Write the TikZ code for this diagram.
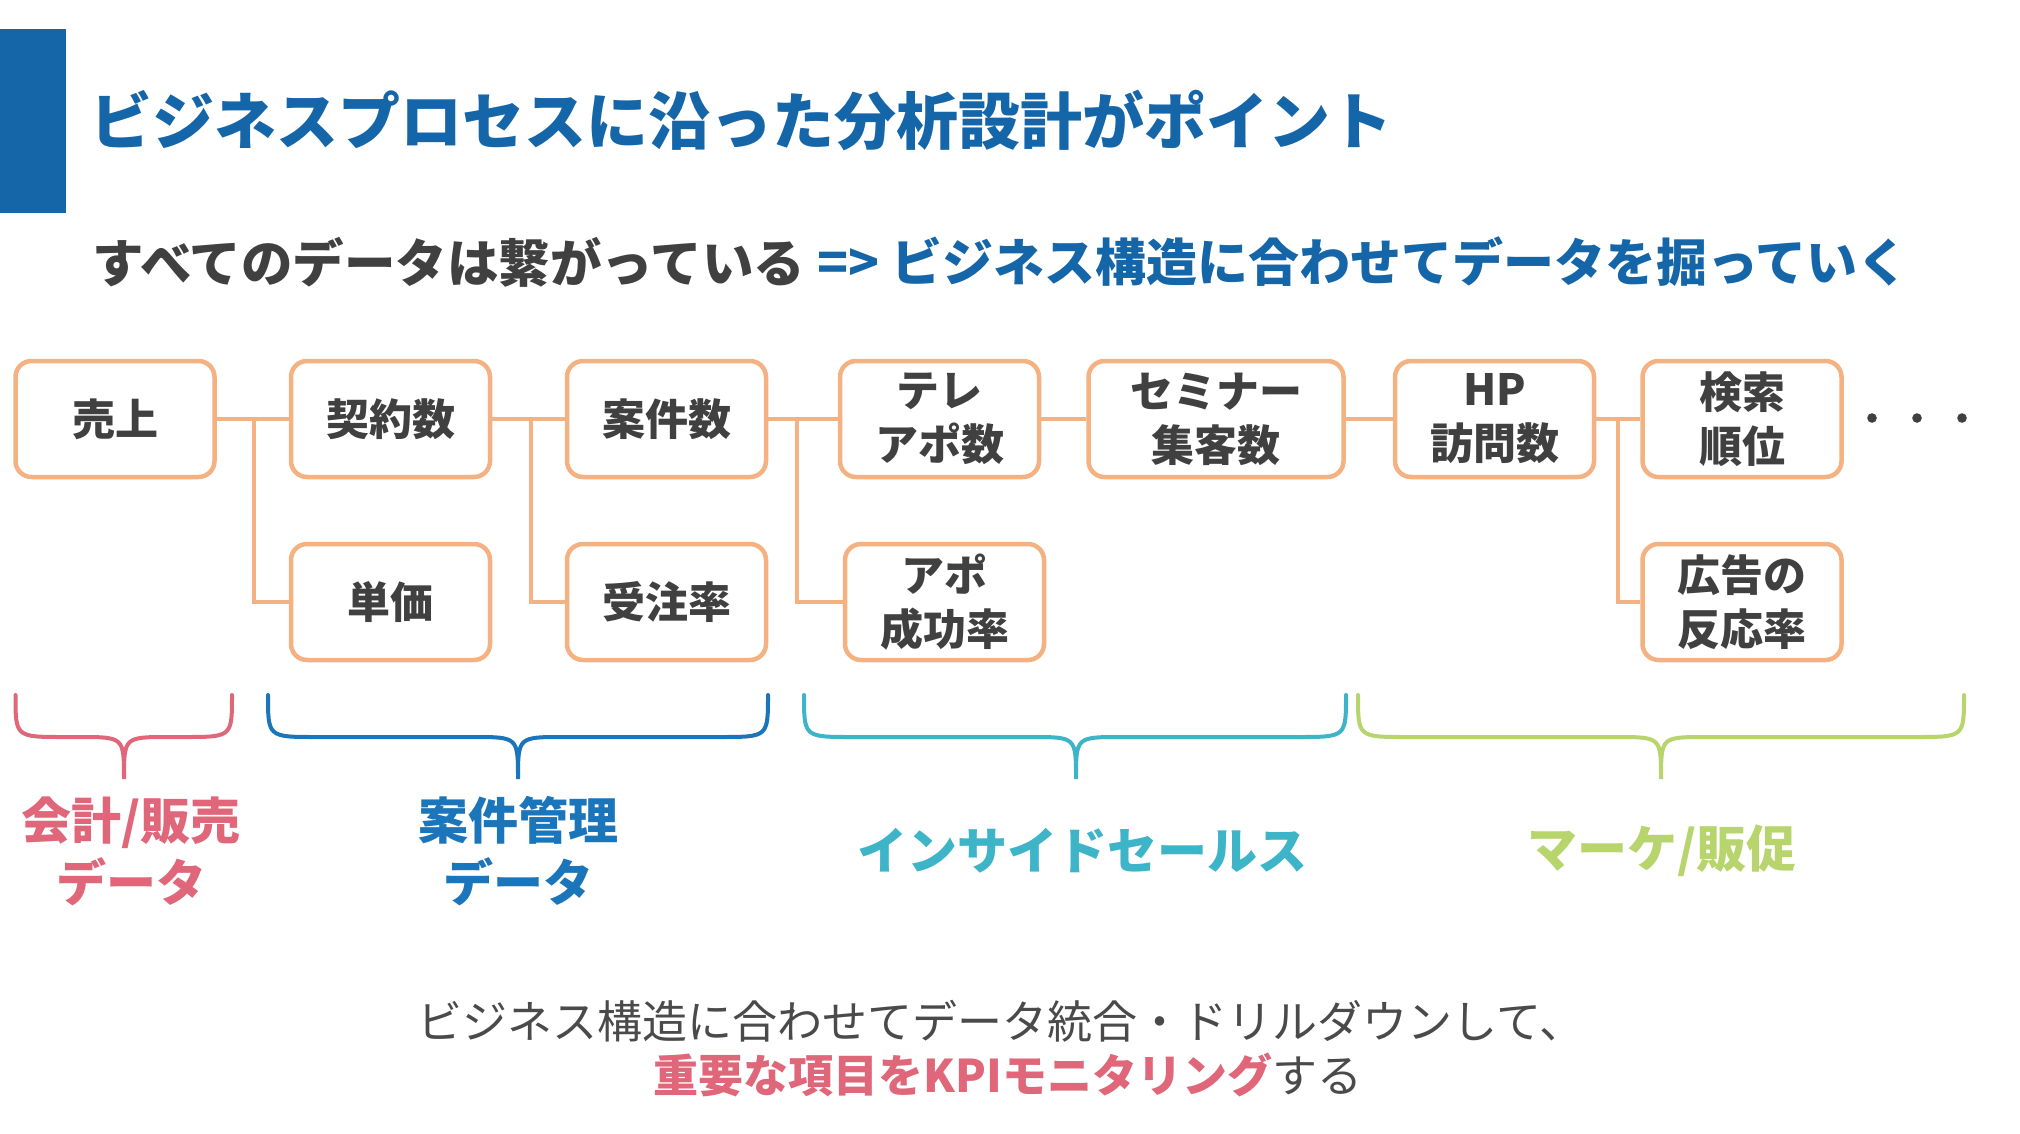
\documentclass[tikz,border=0pt]{standalone}
\usepackage{fontspec}
\setmainfont{Noto Sans CJK JP}
\definecolor{titleblue}{HTML}{1565A9}
\definecolor{boxorange}{HTML}{F4B182}
\definecolor{darktext}{HTML}{404040}
\definecolor{graytext}{HTML}{4A4A4A}
\definecolor{cpink}{HTML}{E0677A}
\definecolor{cblue}{HTML}{1B75BB}
\definecolor{cteal}{HTML}{3DB4C7}
\definecolor{cgreen}{HTML}{B7D56C}
\tikzset{
  metric/.style={draw=boxorange, line width=4.5pt, rounded corners=16pt, fill=white,
    minimum width=199pt, minimum height=116pt, inner sep=0pt, align=center,
    text=darktext, font=\fontsize{43}{54}\selectfont\bfseries},
  link/.style={draw=boxorange, line width=4pt},
  bracepath/.style={line width=4pt, line cap=round},
  grouplabel/.style={align=center, font=\fontsize{50}{62}\selectfont\bfseries},
}
\newcommand{\mybrace}[4]{% color, xL, xC, xR
  \draw[bracepath, #1] (#2,695) .. controls (#2,737) and (#2,737) .. ({#2+48},737)
    -- ({#3-45},737) .. controls (#3,737) and (#3,737) .. (#3,779)
    .. controls (#3,737) and (#3,737) .. ({#3+45},737)
    -- ({#4-48},737) .. controls (#4,737) and (#4,737) .. (#4,695);
}
\begin{document}
\begin{tikzpicture}[x=1pt,y=-1pt]
\useasboundingbox (0,0) rectangle (2020,1134);
\fill[white] (0,0) rectangle (2020,1134);
% header
\fill[titleblue] (0,29) rectangle (66,213);
\node[anchor=west, inner sep=0pt, text=titleblue, font=\fontsize{62}{70}\selectfont\bfseries] (title) at (90,121) {ビジネスプロセスに沿った分析設計がポイント};
\node[anchor=west, inner sep=0pt, text=darktext, font=\fontsize{51.5}{60}\selectfont\bfseries] (sub1) at (92,262) {すべてのデータは繋がっている};
\node[anchor=west, inner sep=0pt, text=titleblue, font=\fontsize{51}{60}\selectfont\bfseries] (sub2) at (817,262) {=> ビジネス構造に合わせてデータを掘っていく};
% boxes
\node[metric] (uriage) at (115,419) {売上};
\node[metric] (keiyaku) at (390.5,419) {契約数};
\node[metric] (tanka) at (390.5,602) {単価};
\node[metric] (anken) at (666.5,419) {案件数};
\node[metric] (juchu) at (666.5,602) {受注率};
\node[metric] (teleapo) at (939.5,419) {テレ\\アポ数};
\node[metric] (apo) at (944.5,602) {アポ\\成功率};
\node[metric] (seminar) at (1216,419) [minimum width=255pt] {セミナー\\集客数};
\node[metric] (hp) at (1494.5,419) {HP\\訪問数};
\node[metric] (kensaku) at (1742,419) {検索\\順位};
\node[metric] (koukoku) at (1742,602) {広告の\\反応率};
% connectors
\coordinate (j1) at (253.5,419);
\coordinate (j2) at (531,419);
\coordinate (j3) at (796.5,419);
\coordinate (j4) at (1618,419);
\draw[link] (uriage.east) -- (keiyaku.west);
\draw[link] (j1) |- (tanka.west);
\draw[link] (keiyaku.east) -- (anken.west);
\draw[link] (j2) |- (juchu.west);
\draw[link] (anken.east) -- (teleapo.west);
\draw[link] (j3) |- (apo.west);
\draw[link] (teleapo.east) -- (seminar.west);
\draw[link] (seminar.east) -- (hp.west);
\draw[link] (hp.east) -- (kensaku.west);
\draw[link] (j4) |- (koukoku.west);
% dots
\foreach \dx in {1872,1917,1962} \fill[darktext] (\dx,418) circle (4.8pt);
% braces
\mybrace{cpink}{15.5}{124}{232}
\mybrace{cblue}{268}{518}{768}
\mybrace{cteal}{804}{1076}{1346}
\mybrace{cgreen}{1358}{1661}{1964}
% group labels
\node[grouplabel, text=cpink] (g1) at (131,851) {会計/販売\\データ};
\node[grouplabel, text=cblue] (g2) at (518,851) {案件管理\\データ};
\node[grouplabel, text=cteal] (g3) at (1082,851) {インサイドセールス};
\node[grouplabel, text=cgreen] (g4) at (1662,851) {マーケ/販促};
% bottom text
\node[inner sep=0pt, text=graytext, font=\fontsize{45}{52}\selectfont] (b1) at (1001,1021) {ビジネス構造に合わせてデータ統合・ドリルダウンして、};
\node[inner sep=0pt, text=graytext, font=\fontsize{45}{52}\selectfont] (b2) at (1008,1075) {{\color{cpink}\bfseries 重要な項目をKPIモニタリング}する};
\end{tikzpicture}
\end{document}
